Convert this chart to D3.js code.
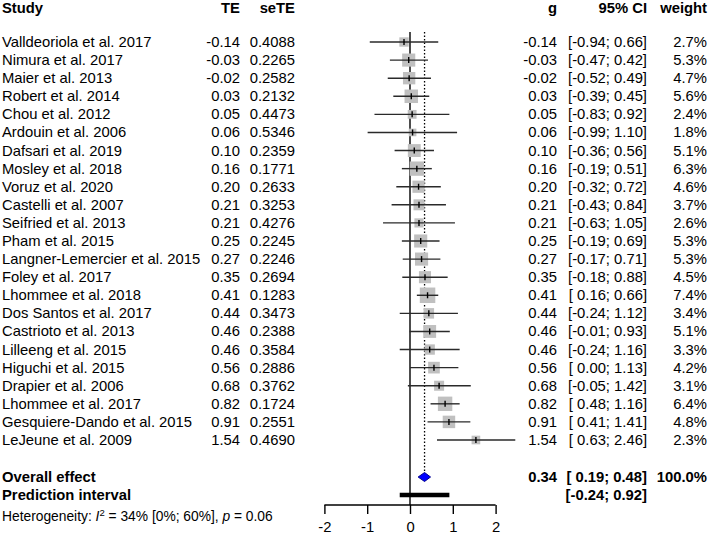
<!DOCTYPE html>
<html lang="en">
<head>
<meta charset="utf-8">
<title>Forest plot</title>
<script src="https://d3js.org/d3.v7.min.js"></script>
<style>
  body { margin: 0; background: #fff; }
  svg text { font-family: "Liberation Sans", Arial, sans-serif; fill: #000; }
</style>
</head>
<body>
<div id="chart"></div>
<script>
// study data
var studies = ["Valldeoriola et al. 2017", "Nimura et al. 2017", "Maier et al. 2013", "Robert et al. 2014",
  "Chou et al. 2012", "Ardouin et al. 2006", "Dafsari et al. 2019", "Mosley et al. 2018", "Voruz et al. 2020",
  "Castelli et al. 2007", "Seifried et al. 2013", "Pham et al. 2015", "Langner-Lemercier et al. 2015",
  "Foley et al. 2017", "Lhommee et al. 2018", "Dos Santos et al. 2017", "Castrioto et al. 2013",
  "Lilleeng et al. 2015", "Higuchi et al. 2015", "Drapier et al. 2006", "Lhommee et al. 2017",
  "Gesquiere-Dando et al. 2015", "LeJeune et al. 2009"];
var te = [-0.14, -0.03, -0.02, 0.03, 0.05, 0.06, 0.10, 0.16, 0.20, 0.21, 0.21, 0.25, 0.27, 0.35, 0.41, 0.44, 0.46, 0.46, 0.56, 0.68, 0.82, 0.91, 1.54];
var seTE = ["0.4088", "0.2265", "0.2582", "0.2132", "0.4473", "0.5346", "0.2359", "0.1771", "0.2633", "0.3253", "0.4276", "0.2245", "0.2246", "0.2694", "0.1283", "0.3473", "0.2388", "0.3584", "0.2886", "0.3762", "0.1724", "0.2551", "0.4690"];
var ciLow = [-0.94, -0.47, -0.52, -0.39, -0.83, -0.99, -0.36, -0.19, -0.32, -0.43, -0.63, -0.19, -0.17, -0.18, 0.16, -0.24, -0.01, -0.24, 0.00, -0.05, 0.48, 0.41, 0.63];
var ciHigh = [0.66, 0.42, 0.49, 0.45, 0.92, 1.10, 0.56, 0.51, 0.72, 0.84, 1.05, 0.69, 0.71, 0.88, 0.66, 1.12, 0.93, 1.16, 1.13, 1.42, 1.16, 1.41, 2.46];
var weights = [2.7, 5.3, 4.7, 5.6, 2.4, 1.8, 5.1, 6.3, 4.6, 3.7, 2.6, 5.3, 5.3, 4.5, 7.4, 3.4, 5.1, 3.3, 4.2, 3.1, 6.4, 4.8, 2.3];

// pooled results
var overall = { g: 0.34, low: 0.19, high: 0.48, weight: "100.0%" };
var prediction = { low: -0.24, high: 0.92 };
var axisTicks = [-2, -1, 0, 1, 2];

var width = 709, height = 538;
var fs = 14.8;

var svg = d3.select("#chart").append("svg")
  .attr("width", width)
  .attr("height", height);

var x = d3.scaleLinear().domain([-2, 2]).range([324.4, 495.6]);
var y = d3.scaleLinear().domain([0, studies.length - 1]).range([42, 440]);
var boxSize = d3.scaleSqrt().domain([0, 7.4]).range([0, 15.5]);

var f2 = d3.format(".2f");
function num(v) { return f2(v).replace("−", "-"); }
function ci(a, b) {
  var lo = a < 0 ? num(a) : " " + num(a);
  return "[" + lo + "; " + num(b) + "]";
}

// column headers
var header = svg.append("g").style("font-weight", "bold").style("font-size", fs + "px");
header.append("text").attr("x", 2).attr("y", 13).text("Study");
header.append("text").attr("x", 240).attr("y", 13).attr("text-anchor", "end").text("TE");
header.append("text").attr("x", 295).attr("y", 13).attr("text-anchor", "end").text("seTE");
header.append("text").attr("x", 557).attr("y", 13).attr("text-anchor", "end").text("g");
header.append("text").attr("x", 647).attr("y", 13).attr("text-anchor", "end").text("95% CI");
header.append("text").attr("x", 707).attr("y", 13).attr("text-anchor", "end").text("weight");

// reference lines
svg.append("line")
  .attr("x1", x(0)).attr("x2", x(0))
  .attr("y1", 32).attr("y2", 505)
  .attr("stroke", "#000").attr("stroke-width", 1.4);
svg.append("line")
  .attr("x1", x(overall.g)).attr("x2", x(overall.g))
  .attr("y1", 32).attr("y2", 472)
  .attr("stroke", "#000").attr("stroke-width", 1.3)
  .attr("stroke-dasharray", "1.5,2");

// study rows
var rows = svg.selectAll(".row")
  .data(studies)
  .enter()
  .append("g")
  .attr("class", "row")
  .style("font-size", fs + "px");

rows.append("rect")
  .attr("x", function(d, i) { return x(te[i]) - boxSize(weights[i]) / 2; })
  .attr("y", function(d, i) { return y(i) - boxSize(weights[i]) / 2; })
  .attr("width", function(d, i) { return boxSize(weights[i]); })
  .attr("height", function(d, i) { return boxSize(weights[i]); })
  .attr("fill", "#c0c0c0");

rows.append("line")
  .attr("x1", function(d, i) { return x(ciLow[i]); })
  .attr("x2", function(d, i) { return x(ciHigh[i]); })
  .attr("y1", function(d, i) { return y(i); })
  .attr("y2", function(d, i) { return y(i); })
  .attr("stroke", "#2a2a2a").attr("stroke-width", 1.4);

rows.append("line")
  .attr("x1", function(d, i) { return x(te[i]); })
  .attr("x2", function(d, i) { return x(te[i]); })
  .attr("y1", function(d, i) { return y(i) - 3; })
  .attr("y2", function(d, i) { return y(i) + 3; })
  .attr("stroke", "#000").attr("stroke-width", 1.4);

rows.append("text").attr("x", 2).attr("y", function(d, i) { return y(i) + 5; }).text(function(d) { return d; });
rows.append("text").attr("x", 240).attr("y", function(d, i) { return y(i) + 5; })
  .attr("text-anchor", "end").text(function(d, i) { return num(te[i]); });
rows.append("text").attr("x", 295).attr("y", function(d, i) { return y(i) + 5; })
  .attr("text-anchor", "end").text(function(d, i) { return seTE[i]; });
rows.append("text").attr("x", 557).attr("y", function(d, i) { return y(i) + 5; })
  .attr("text-anchor", "end").text(function(d, i) { return num(te[i]); });
rows.append("text").attr("x", 647).attr("y", function(d, i) { return y(i) + 5; })
  .attr("text-anchor", "end").style("white-space", "pre")
  .text(function(d, i) { return ci(ciLow[i], ciHigh[i]); });
rows.append("text").attr("x", 707).attr("y", function(d, i) { return y(i) + 5; })
  .attr("text-anchor", "end").text(function(d, i) { return weights[i].toFixed(1) + "%"; });

// overall effect
var yOv = 477, yPi = 495;
svg.append("path")
  .attr("d", "M" + x(overall.low) + "," + yOv + "L" + x(overall.g) + "," + (yOv - 4.5) +
    "L" + x(overall.high) + "," + yOv + "L" + x(overall.g) + "," + (yOv + 4.5) + "Z")
  .attr("fill", "#0000ff").attr("stroke", "#00008b").attr("stroke-width", 1);

svg.append("line")
  .attr("x1", x(prediction.low)).attr("x2", x(prediction.high))
  .attr("y1", yPi).attr("y2", yPi)
  .attr("stroke", "#000").attr("stroke-width", 4.5);

var bold = svg.append("g").style("font-weight", "bold").style("font-size", fs + "px");
bold.append("text").attr("x", 2).attr("y", yOv + 5).text("Overall effect");
bold.append("text").attr("x", 2).attr("y", yPi + 5).text("Prediction interval");
bold.append("text").attr("x", 557).attr("y", yOv + 5).attr("text-anchor", "end").text(num(overall.g));
bold.append("text").attr("x", 647).attr("y", yOv + 5).attr("text-anchor", "end").style("white-space", "pre")
  .text(ci(overall.low, overall.high));
bold.append("text").attr("x", 707).attr("y", yOv + 5).attr("text-anchor", "end").text(overall.weight);
bold.append("text").attr("x", 647).attr("y", yPi + 5).attr("text-anchor", "end")
  .text(ci(prediction.low, prediction.high));

// heterogeneity
var het = svg.append("text").attr("x", 2).attr("y", 521).style("font-size", "13.8px");
het.append("tspan").text("Heterogeneity: ");
het.append("tspan").style("font-style", "italic").text("I");
het.append("tspan").attr("dy", -5).style("font-size", "9.5px").text("2");
het.append("tspan").attr("dy", 5).text(" = 34% [0%; 60%], ");
het.append("tspan").style("font-style", "italic").text("p");
het.append("tspan").text(" = 0.06");

// axis
var axis = svg.append("g")
  .attr("transform", "translate(0,505)")
  .call(d3.axisBottom(x).tickValues(axisTicks).tickFormat(d3.format("d")).tickSize(9).tickPadding(7));
axis.select(".domain").attr("stroke", "#000").attr("stroke-width", 1.4)
  .attr("d", "M" + x(-2) + ",0H" + x(2));
axis.selectAll(".tick line").attr("stroke", "#000").attr("stroke-width", 1.4);
axis.selectAll(".tick text")
  .style("font-size", fs + "px")
  .style("font-family", "Liberation Sans, Arial, sans-serif")
  .text(function(d) { return String(d).replace("−", "-"); });
</script>
</body>
</html>
